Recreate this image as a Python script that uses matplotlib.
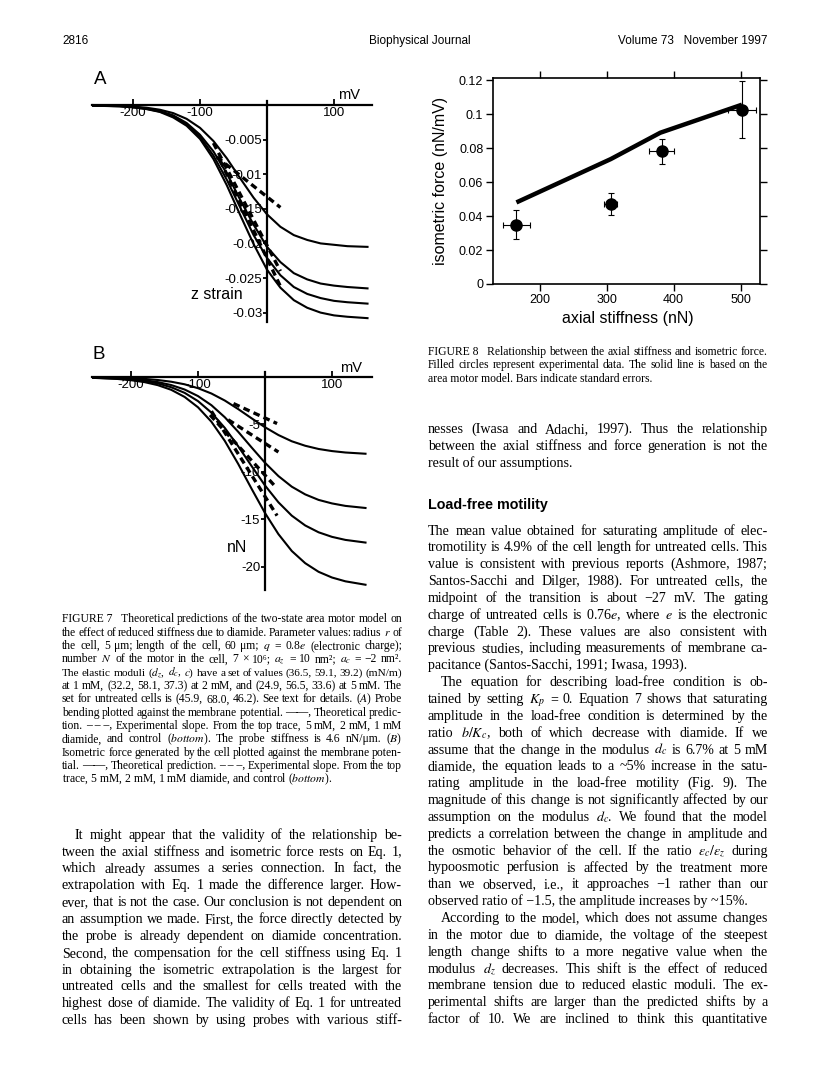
import numpy as np
import matplotlib.pyplot as plt

plt.rcParams['font.family'] = ['Liberation Sans', 'DejaVu Sans']
plt.rcParams['mathtext.fontset'] = 'stix'

# ---- Figure 7 data ----
mv = [-260, -220, -200, -180, -160, -140, -120, -100, -80, -60, -40, -20,
      0, 20, 40, 60, 80, 100, 120, 150]

# (A) probe bending, z strain; top trace 5 mM, 2 mM, 1 mM, control
strain_5mM = [0.0, -0.00012, -0.00023, -0.00039, -0.00068, -0.00117, -0.0020,
              -0.0033, -0.0052, -0.0077, -0.0106, -0.0134, -0.0158, -0.0176,
              -0.0188, -0.0195, -0.0200, -0.0202, -0.0204, -0.0205]
strain_2mM = [-0.0001, -0.00016, -0.00029, -0.00051, -0.00088, -0.0015, -0.0026,
              -0.0043, -0.0067, -0.0099, -0.0137, -0.0173, -0.0205, -0.0227,
              -0.0243, -0.0252, -0.0258, -0.0261, -0.0263, -0.0265]
strain_1mM = [-0.0001, -0.00017, -0.00032, -0.00055, -0.00095, -0.0016, -0.0028,
              -0.0046, -0.0073, -0.0108, -0.0148, -0.0188, -0.0221, -0.0246,
              -0.0263, -0.0273, -0.0279, -0.0283, -0.0285, -0.0287]
strain_ctrl = [-0.0001, -0.00019, -0.00034, -0.00059, -0.0010, -0.0018, -0.0030,
               -0.0049, -0.0078, -0.0116, -0.0159, -0.0201, -0.0238, -0.0264,
               -0.0282, -0.0293, -0.0300, -0.0304, -0.0306, -0.0308]
slope_a_x = [[-75, 20], [-80, 20], [-70, 20]]
slope_a_y = [[-0.0075, -0.0148], [-0.0055, -0.0240], [-0.0080, -0.0262]]

# (B) isometric force, nN
force_5mM = [-0.03, -0.08, -0.13, -0.20, -0.32, -0.50, -0.77, -1.18, -1.74, -2.48,
             -3.38, -4.35, -5.29, -6.11, -6.77, -7.24, -7.58, -7.80, -7.95, -8.08]
force_2mM = [-0.05, -0.13, -0.21, -0.34, -0.54, -0.85, -1.32, -2.01, -2.97, -4.24,
             -5.77, -7.42, -9.03, -10.43, -11.55, -12.36, -12.94, -13.31, -13.57, -13.79]
force_1mM = [-0.07, -0.17, -0.27, -0.43, -0.68, -1.08, -1.67, -2.54, -3.75, -5.36,
             -7.29, -9.38, -11.42, -13.19, -14.60, -15.63, -16.35, -16.83, -17.15, -17.43]
force_ctrl = [-0.08, -0.21, -0.34, -0.54, -0.86, -1.35, -2.10, -3.19, -4.71, -6.73,
              -9.15, -11.77, -14.32, -16.54, -18.32, -19.60, -20.51, -21.11, -21.51, -21.87]
slope_b_x = [[-47, 18], [-55, 20], [-82, 15], [-80, 18]]
slope_b_y = [[-2.8, -4.9], [-4.5, -7.9], [-4.0, -11.5], [-3.6, -14.6]]

# ---- Figure 8 data ----
stiffness = [165, 306, 382, 502]
iso_force = [0.035, 0.047, 0.078, 0.1025]
stiffness_se = [20, 10, 19, 21]
force_se = [0.0085, 0.0065, 0.0073, 0.0167]
model_x = [165, 306, 380, 502]
model_y = [0.048, 0.0735, 0.089, 0.1055]

# ---- page text ----
fig7_caption = [
    "FIGURE\u00a07\u00a0\u00a0\u00a0Theoretical predictions of the two-state area motor model on",
    "the effect of reduced stiffness due to diamide. Parameter values: radius $r$ of",
    "the cell, 5 \u03bcm; length of the cell, 60 \u03bcm; $q$ = 0.8$e$ (electronic charge);",
    "number $N$ of the motor in the cell, 7 \u00d7 10\u2076; $a_z$ = 10 nm\u00b2; $a_c$ = \u22122 nm\u00b2.",
    "The elastic moduli ($d_z$, $d_c$, $c$) have a set of values (36.5, 59.1, 39.2) (mN/m)",
    "at 1 mM, (32.2, 58.1, 37.3) at 2 mM, and (24.9, 56.5, 33.6) at 5 mM. The",
    "set for untreated cells is (45.9, 68.0, 46.2). See text for details. ($\\mathit{A}$) Probe",
    "bending plotted against the membrane potential. \u2014\u2014, Theoretical predic-",
    "tion. \u2013\u00a0\u2013\u00a0\u2013, Experimental slope. From the top trace, 5 mM, 2 mM, 1 mM",
    "diamide, and control ($\\mathit{bottom}$). The probe stiffness is 4.6 nN/\u03bcm. ($\\mathit{B}$)",
    "Isometric force generated by the cell plotted against the membrane poten-",
    "tial. \u2014\u2014, Theoretical prediction. \u2013\u00a0\u2013\u00a0\u2013, Experimental slope. From the top",
    "trace, 5 mM, 2 mM, 1 mM diamide, and control ($\\mathit{bottom}$).",
]
left_body = [
    "   It might appear that the validity of the relationship be-",
    "tween the axial stiffness and isometric force rests on Eq. 1,",
    "which already assumes a series connection. In fact, the",
    "extrapolation with Eq. 1 made the difference larger. How-",
    "ever, that is not the case. Our conclusion is not dependent on",
    "an assumption we made. First, the force directly detected by",
    "the probe is already dependent on diamide concentration.",
    "Second, the compensation for the cell stiffness using Eq. 1",
    "in obtaining the isometric extrapolation is the largest for",
    "untreated cells and the smallest for cells treated with the",
    "highest dose of diamide. The validity of Eq. 1 for untreated",
    "cells has been shown by using probes with various stiff-",
]
fig8_caption = [
    "FIGURE\u00a08\u00a0\u00a0\u00a0Relationship between the axial stiffness and isometric force.",
    "Filled circles represent experimental data. The solid line is based on the",
    "area motor model. Bars indicate standard errors.",
]
right_top = [
    "nesses (Iwasa and Adachi, 1997). Thus the relationship",
    "between the axial stiffness and force generation is not the",
    "result of our assumptions.",
]
right_body = [
    "The mean value obtained for saturating amplitude of elec-",
    "tromotility is 4.9% of the cell length for untreated cells. This",
    "value is consistent with previous reports (Ashmore, 1987;",
    "Santos-Sacchi and Dilger, 1988). For untreated cells, the",
    "midpoint of the transition is about \u221227 mV. The gating",
    "charge of untreated cells is 0.76$e$, where $e$ is the electronic",
    "charge (Table 2). These values are also consistent with",
    "previous studies, including measurements of membrane ca-",
    "pacitance (Santos-Sacchi, 1991; Iwasa, 1993).",
    "   The equation for describing load-free condition is ob-",
    "tained by setting $K_p$ = 0. Equation 7 shows that saturating",
    "amplitude in the load-free condition is determined by the",
    "ratio $b/K_c$, both of which decrease with diamide. If we",
    "assume that the change in the modulus $d_c$ is 6.7% at 5 mM",
    "diamide, the equation leads to a ~5% increase in the satu-",
    "rating amplitude in the load-free motility (Fig. 9). The",
    "magnitude of this change is not significantly affected by our",
    "assumption on the modulus $d_c$. We found that the model",
    "predicts a correlation between the change in amplitude and",
    "the osmotic behavior of the cell. If the ratio $\\varepsilon_c/\\varepsilon_z$ during",
    "hypoosmotic perfusion is affected by the treatment more",
    "than we observed, i.e., it approaches \u22121 rather than our",
    "observed ratio of \u22121.5, the amplitude increases by ~15%.",
    "   According to the model, which does not assume changes",
    "in the motor due to diamide, the voltage of the steepest",
    "length change shifts to a more negative value when the",
    "modulus $d_z$ decreases. This shift is the effect of reduced",
    "membrane tension due to reduced elastic moduli. The ex-",
    "perimental shifts are larger than the predicted shifts by a",
    "factor of 10. We are inclined to think this quantitative",
]

W, H = 816, 1090
fig = plt.figure(figsize=(W / 100, H / 100), dpi=100)
renderer = fig.canvas.get_renderer()
SERIF = ['Liberation Serif', 'DejaVu Serif']


def fx(x):
    return x / W


def fy(y):
    return 1 - y / H


def text_block(lines, x0, x1, y0, dy, size, ragged=()):
    # justified lines of serif text, y0 is the baseline of the first line (pixels from top)
    for i, line in enumerate(lines):
        y = fy(y0 + i * dy)
        left = x0 + (13 if line.startswith('   ') else 0)
        words = [w for w in line.split(' ') if w]
        if i in ragged or len(words) == 1:
            fig.text(fx(left), y, ' '.join(words), size=size, family=SERIF, va='baseline')
            continue
        items = [fig.text(0, y, w, size=size, family=SERIF, va='baseline') for w in words]
        s = size
        while True:
            widths = [t.get_window_extent(renderer).width for t in items]
            gap = (x1 - left - sum(widths)) / (len(words) - 1)
            if gap >= 0.22 * s:
                break
            # line too long at this size: shrink it a little
            s *= 0.97
            for t in items:
                t.set_fontsize(s)
        x = left
        for t, w in zip(items, widths):
            t.set_x(fx(x))
            x += w + gap


def zero_axes(ax, ybounds):
    ax.patch.set_visible(False)
    for s in ['top', 'right']:
        ax.spines[s].set_visible(False)
    ax.spines['left'].set_position(('data', 0))
    ax.spines['bottom'].set_position(('data', 0))
    ax.spines['left'].set_bounds(*ybounds)
    for s in ['left', 'bottom']:
        ax.spines[s].set_linewidth(1.6)
    ax.tick_params(axis='x', direction='in', length=4, width=1.3, pad=1.5, labelsize=9.5)
    ax.tick_params(axis='y', direction='out', length=3, width=1.3, pad=0.5, labelsize=9.5)


# header
fig.text(fx(62), fy(44), '2816', size=8.5, va='baseline')
fig.text(fx(420), fy(44), 'Biophysical Journal', size=8.5, ha='center', va='baseline')
fig.text(fx(768), fy(44), 'Volume 73   November 1997', size=8.5, ha='right', va='baseline')

# ---- Figure 7A ----
axA = fig.add_axes([fx(92), fy(325), 280 / W, 230 / H])
axA.set_xlim(-261.2, 156.7)
axA.set_ylim(-0.03179, 0.001445)
for curve in [strain_5mM, strain_2mM, strain_1mM, strain_ctrl]:
    axA.plot(mv, curve, color='black', lw=1.5)
for xs, ys in zip(slope_a_x, slope_a_y):
    axA.plot(xs, ys, color='black', lw=2.4, ls=(0, (2.0, 1.3)))
zero_axes(axA, (-0.0314, 0.0006))
axA.set_xticks([-200, -100, 100])
axA.set_xticklabels(['-200', '-100', '100'])
axA.set_yticks([-0.005, -0.01, -0.015, -0.02, -0.025, -0.03])
axA.set_yticklabels(['-0.005', '-0.01', '-0.015', '-0.02', '-0.025', '-0.03'])
fig.text(fx(94), fy(84), 'A', size=13.5, va='baseline')
fig.text(fx(349), fy(99), 'mV', size=10.5, ha='center', va='baseline')
fig.text(fx(217), fy(299), 'z strain', size=11.5, ha='center', va='baseline')

# ---- Figure 7B ----
axB = fig.add_axes([fx(92), fy(595), 280 / W, 228 / H])
axB.set_xlim(-258.2, 159.7)
axB.set_ylim(-22.95, 1.05)
for curve in [force_5mM, force_2mM, force_1mM, force_ctrl]:
    axB.plot(mv, curve, color='black', lw=1.5)
for xs, ys in zip(slope_b_x, slope_b_y):
    axB.plot(xs, ys, color='black', lw=2.4, ls=(0, (2.0, 1.3)))
zero_axes(axB, (-22.4, 0.5))
axB.set_xticks([-200, -100, 100])
axB.set_xticklabels(['-200', '-100', '100'])
axB.set_yticks([-5, -10, -15, -20])
axB.set_yticklabels(['-5', '-10', '-15', '-20'])
fig.text(fx(93), fy(359), 'B', size=13.5, va='baseline')
fig.text(fx(351), fy(372), 'mV', size=10.5, ha='center', va='baseline')
fig.text(fx(237), fy(552), 'nN', size=11.5, ha='center', va='baseline')

# ---- Figure 8 ----
ax8 = fig.add_axes([fx(493), fy(284), 267 / W, 206 / H])
ax8.plot(model_x, model_y, color='black', lw=3.2, solid_capstyle='butt')
ax8.errorbar(stiffness, iso_force, xerr=stiffness_se, yerr=force_se, fmt='o',
             color='black', ms=8, elinewidth=0.8, capsize=2, capthick=0.8)
ax8.set_xlim(130, 529)
ax8.set_ylim(0, 0.1212)
ax8.set_xticks([200, 300, 400, 500])
ax8.set_yticks([0, 0.02, 0.04, 0.06, 0.08, 0.1, 0.12])
ax8.set_yticklabels(['0', '0.02', '0.04', '0.06', '0.08', '0.1', '0.12'])
ax8.tick_params(direction='out', top=True, right=True, length=5, width=1,
                labelsize=9, pad=2)
for s in ax8.spines.values():
    s.set_linewidth(1.2)
fig.text(fx(440), fy(181), 'isometric force (nN/mV)', size=11.5, rotation=90,
         ha='center', va='center')
fig.text(fx(628), fy(318), 'axial stiffness (nN)', size=11.5, ha='center', va='center')

# ---- text blocks ----
text_block(fig7_caption, 62, 402, 622.2, 13.35, 8.4, ragged=(12,))
text_block(left_body, 62, 402, 838.8, 16.85, 10.1)
text_block(fig8_caption, 428, 768, 355, 13.3, 8.4, ragged=(2,))
text_block(right_top, 428, 768, 432.8, 16.85, 10.1, ragged=(2,))
fig.text(fx(428), fy(509), 'Load-free motility', size=10.3, weight='bold', va='baseline')
text_block(right_body, 428, 768, 534.5, 16.85, 10.1, ragged=(8, 22))

fig.savefig('out.png', dpi=100)
